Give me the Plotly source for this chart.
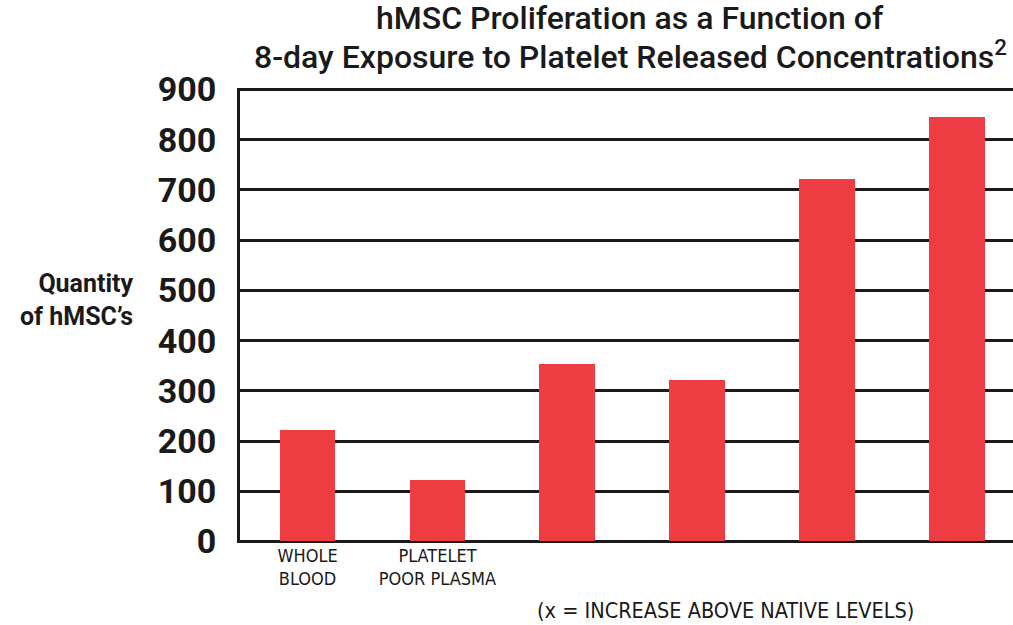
import plotly.graph_objects as go

positions = [0, 1, 2, 3, 4, 5]
values = [222, 122, 354, 321, 721, 846]
tick_positions = [0, 1]
tick_labels = ["WHOLE<br>BLOOD", "PLATELET<br>POOR PLASMA"]
y_ticks = [0, 100, 200, 300, 400, 500, 600, 700, 800, 900]
title_lines = ["hMSC Proliferation as a Function of",
               "8-day Exposure to Platelet Released Concentrations<sup>2</sup>"]

BAR = "#ee3d42"
FONT = "Roboto"
INK = "#1a1a1a"

fig = go.Figure()
fig.add_trace(go.Bar(x=positions, y=values, marker=dict(color=BAR, line=dict(width=0)), width=0.43))

fig.update_layout(
    width=1013, height=625,
    margin=dict(l=240, r=0, t=88, b=82),
    paper_bgcolor="white", plot_bgcolor="white",
    showlegend=False, bargap=0,
    xaxis=dict(
        range=[-0.52, 5.43], tickvals=tick_positions, ticktext=tick_labels,
        showgrid=False, zeroline=False, showline=False, ticks="",
        tickfont=dict(family="DejaVu Sans Condensed", size=18, color=INK),
    ),
    yaxis=dict(
        range=[-3, 903], tickvals=y_ticks, showgrid=True, gridcolor=INK, gridwidth=3,
        zeroline=True, zerolinecolor=INK, zerolinewidth=3,
        showline=True, linecolor=INK, linewidth=3, ticks="",
        tickfont=dict(family=FONT, size=34, color=INK, weight="bold"),
        ticklabelstandoff=14,
    ),
)

for line, ypos in zip(title_lines, [1.154, 1.072]):
    fig.add_annotation(
        text=line, xref="paper", yref="paper", x=0.505, y=ypos,
        xanchor="center", yanchor="middle", showarrow=False,
        font=dict(family=FONT, size=32, color=INK, weight=500),
    )

fig.add_annotation(
    text="Quantity<br>of hMSC’s", xref="paper", yref="paper", x=-0.135, y=0.535,
    xanchor="right", yanchor="middle", align="right", showarrow=False,
    font=dict(family=FONT, size=25, color=INK, weight="bold"),
)
fig.add_annotation(
    text="(x = INCREASE ABOVE NATIVE LEVELS)", xref="paper", yref="paper", x=0.628, y=-0.148,
    xanchor="center", yanchor="middle", showarrow=False,
    font=dict(family="DejaVu Sans Condensed", size=21.5, color=INK),
)

fig.write_html("out.html", config={"displayModeBar": False},
               post_script="document.body.style.margin='0';document.body.style.overflow='hidden';")
